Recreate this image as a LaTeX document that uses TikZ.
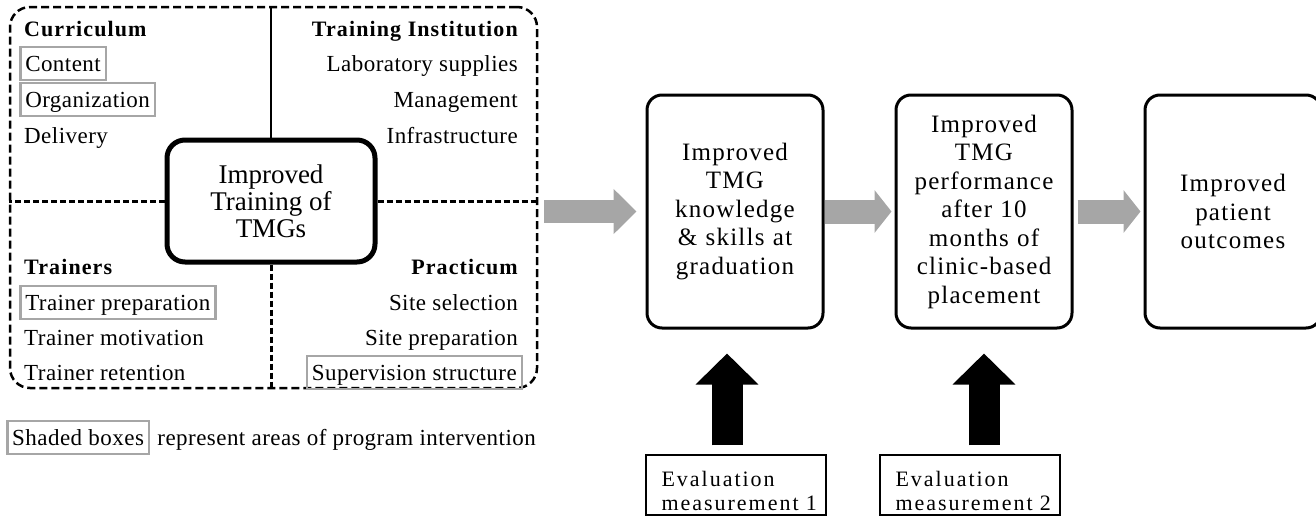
\documentclass[tikz,border=0pt]{standalone}
\usepackage{fontspec}
\setmainfont{Liberation Serif}
\usepackage{tikz}
\usetikzlibrary{positioning}
\usetikzlibrary{arrows.meta}
\definecolor{boxgray}{HTML}{A6A6A6}
\tikzset{>=latex}

\begin{document}
\begin{tikzpicture}[x=1pt, y=-1pt,
  item/.style={font=\fontsize{23}{27}\selectfont\addfontfeature{LetterSpace=2},
    inner xsep=5pt, inner ysep=5pt, text height=19pt, text depth=4pt},
  marked/.style={item, draw=boxgray, line width=2.5pt},
  head/.style={font=\fontsize{22}{25}\selectfont\bfseries\addfontfeature{LetterSpace=5},
    inner sep=0pt},
  frame/.style={draw, line width=2.5pt, dash pattern=on 8pt off 4pt, rounded corners=20pt},
  divider/.style={line width=3pt, dash pattern=on 6pt off 3pt},
  hub/.style={draw, fill=white, line width=5pt, rounded corners=18pt, minimum width=208pt,
    minimum height=122pt, align=center, font=\fontsize{27}{27}\selectfont},
  flow/.style={draw, line width=3pt, rounded corners=15pt, minimum width=176pt,
    minimum height=233pt, text width=170pt, inner xsep=3pt, align=center,
    font=\fontsize{25}{28.5}\selectfont\addfontfeature{LetterSpace=5}},
  flowarrow/.style={draw=boxgray, line width=24pt, -{Triangle[length=17pt, width=42pt]}},
  evalbox/.style={draw, line width=1.3pt, minimum width=180pt, minimum height=60pt},
  evaltext/.style={font=\fontsize{22}{24}\selectfont\addfontfeature{LetterSpace=9},
    inner sep=0pt, text width=160pt, align=left},
  evalarrow/.style={line width=31pt, -{Triangle[length=31pt, width=61pt]}}
]
\useasboundingbox (0,0) rectangle (1316,530);

% ================= Factors of training =================
\node[frame, minimum width=527pt, minimum height=381pt] (frame) at (273.5,197.5) {};
\node[hub] (hub) at (271,201) {Improved\\Training of\\TMGs};

\draw[line width=2.5pt] (hub.north) -- (hub.north |- frame.north);
\draw[divider] (hub.south) -- (hub.south |- frame.south);
\draw[divider] (hub.west) -- (hub.west -| frame.west);
\draw[divider] (hub.east) -- (hub.east -| frame.east);

% headings
\node[head, anchor=base west] (curh) at (24,36) {Curriculum};
\node[head, anchor=base east] (insth) at (518,36) {Training Institution};
\node[head, anchor=base west] (trainh) at (24,274) {Trainers};
\node[head, anchor=base east] (practh) at (518,274) {Practicum};

% items
\foreach \t/\s [count=\i] in {Content/marked, Organization/marked, Delivery/item}{
  \node[\s, anchor=base west] (cur\i) at (19,35+36*\i) {\t};
}
\foreach \t/\s [count=\i] in {Laboratory supplies/item, Management/item, Infrastructure/item}{
  \node[\s, anchor=base east] (inst\i) at (523,35+36*\i) {\t};
}
\foreach \t/\s [count=\i] in {Trainer preparation/marked, Trainer motivation/item,
  Trainer retention/item}{
  \node[\s, anchor=base west] (train\i) at (19,275+35*\i) {\t};
}
\foreach \t/\s [count=\i] in {Site selection/item, Site preparation/item,
  Supervision structure/marked}{
  \node[\s, anchor=base east] (pract\i) at (523,275+35*\i) {\t};
}

% legend
\node[marked, anchor=base west] (legend) at (6,445) {Shaded boxes};
\node[item, anchor=base west, inner xsep=0pt] (legtext) at ([xshift=7pt]legend.base east)
  {represent areas of program intervention};

% ================= Outcome chain =================
\node[flow] (grad) at (735,211.5) {Improved\\TMG\\knowledge\\\& skills at\\graduation};
\node[flow, right=70pt of grad] (place)
  {Improved\\TMG\\performance\\after 10\\months of\\clinic-based\\placement};
\node[flow, right=70pt of place] (patient) {Improved\\patient\\outcomes};

\draw[flowarrow, line width=23pt, -{Triangle[length=23pt, width=44pt]},
  shorten <=6pt, shorten >=9pt] (frame.east |- grad.west) -- (grad.west);
\draw[flowarrow, shorten >=3pt] (grad.east) -- (place.west);
\draw[flowarrow, shorten <=4pt, shorten >=3pt] (place.east) -- (patient.west);

% ================= Evaluation =================
\node[evalbox] (eval1) at (736,485) {};
\node[evalbox] (eval2) at (970,485) {};
\node[evaltext, anchor=base west] (evtext1) at ([xshift=16pt, yshift=-1pt]eval1.west)
  {Evaluation\\measurement 1};
\node[evaltext, anchor=base west] (evtext2) at ([xshift=16pt, yshift=-1pt]eval2.west)
  {Evaluation\\measurement 2};

\draw[evalarrow, shorten <=9pt, shorten >=24pt] ([xshift=-9pt]eval1.north)
  -- ([xshift=-9pt]eval1.north |- grad.south);
\draw[evalarrow, shorten <=9pt, shorten >=24pt] (eval2.north -| place.south)
  -- (place.south);

\end{tikzpicture}
\end{document}
